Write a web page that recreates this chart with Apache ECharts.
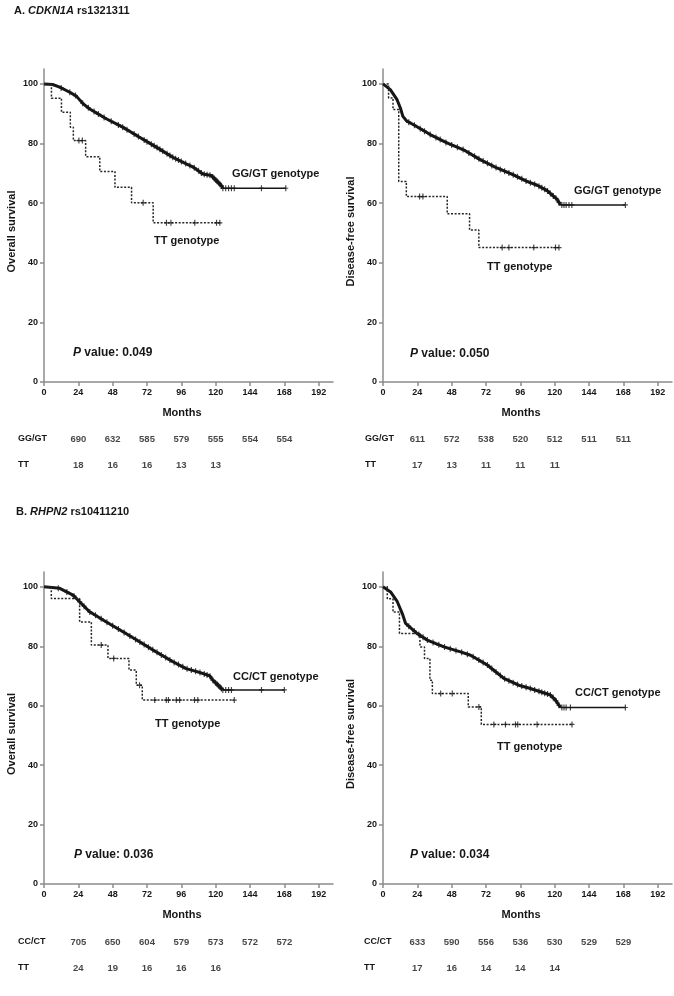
<!DOCTYPE html>
<html>
<head>
<meta charset="utf-8">
<script src="https://cdn.jsdelivr.net/npm/echarts@6/dist/echarts.min.js"></script>
<style>
  html, body { margin: 0; padding: 0; background: #fff; }
  #main { width: 674px; height: 996px; }
</style>
</head>
<body>
<div id="main"></div>
<script>
// x axis ticks (months) and y axis ticks (%)
const monthTicks = [0, 24, 48, 72, 96, 120, 144, 168, 192]
const pctTicks = [0, 20, 40, 60, 80, 100]
const riskTimes = [24, 48, 72, 96, 120, 144, 168]

// A. CDKN1A rs1321311 - overall survival [month, %]
const osA_GG = [[0,100],[6,99.8],[11,98.9],[18,97.2],[22.6,95.9],[27.2,93.4],[32,91.6],[43.5,88.3],[55,85.5],[66.8,82.1],[78.5,78.8],[90,75.4],[99.4,73.2],[104,72.2],[111,69.8],[116.9,69.3],[120.4,67.6],[123.9,65.9],[125,65],[169,65]]
const osA_TT = [[0,100],[5.2,95.2],[12.2,90.5],[18.4,85.5],[20.5,81],[29.1,75.6],[39,70.6],[49.6,65.3],[61.2,60.1],[76.3,53.4],[124,53.4]]
const osA_GG_cens = [12,18,22,27,31,35,38,42,47,52,55,58,63,66,70,72,75,77,79,81,83,86,88,90,92,94,96,99,102,105,108,110,112,114,116,118,119,120,121,122,123,124,125,127,129,131,133,152,169]
const osA_TT_cens = [24.4,26.8,69.3,85.6,88.7,105.4,120.6,122.9]

// A. disease-free survival
const dfsA_GG = [[0,100],[5.1,98.1],[9.7,94.8],[12.1,92],[13.9,89.1],[16.7,87.5],[21.4,86.3],[33,83],[44.7,80.2],[56.3,77.9],[67.9,74.6],[79.6,71.8],[91.2,69.5],[100.6,67.3],[107.8,66],[114.7,64.2],[121.7,61.3],[124,59.4],[169.4,59.4]]
const dfsA_TT = [[0,100],[3.9,95.3],[7,91.4],[11,67.3],[16.3,62.2],[44.9,56.4],[60.5,51],[67,45.1],[123,45.1]]
const dfsA_GG_cens = [18,22,26,29,33,37,40,44,48,52,56,60,64,67,70,73,76,79,82,85,88,91,94,97,100,103,106,109,111,113,115,117,119,121,123,125,126.5,128,130,132,169.4]
const dfsA_TT_cens = [25.6,27.9,83.3,88,105.4,120.6,123]

// B. RHPN2 rs10411210 - overall survival
const osB_CC = [[0,100],[11,99.5],[20.3,97.2],[26.1,94.4],[31.9,91.6],[43.6,88.2],[55.2,84.9],[66.8,81.5],[78.5,78.1],[90.1,74.8],[99.4,72.5],[108.7,71.2],[115.7,70.1],[118,68.6],[122.7,66.4],[125,65.3],[168,65.3]]
const osB_TT = [[0,100],[5.1,96.1],[24.9,88.2],[33.1,80.4],[44.7,75.9],[59.4,72],[64.5,66.9],[68.7,61.9],[133,61.9]]
const osB_CC_cens = [10,16,21,25,28,32,36,40,44,48,52,56,60,64,67,70,73,76,79,82,85,88,91,94,97,100,103,106,109,112,114,116,118,120,121,122,123,124,125,127,129,131,152,168]
const osB_TT_cens = [40,48.7,66.8,77.4,85.5,87,92.5,94.8,105.2,107.5,133]

// B. disease-free survival
const dfsB_CC = [[0,100],[5.3,98.3],[10,95],[13.5,91],[15.8,87.7],[23.9,84.3],[30.9,82.1],[42.6,79.8],[54.2,78.1],[61.2,77],[72.9,73.7],[84.5,69.2],[94.9,66.9],[103,65.8],[110,64.7],[117,63.6],[120.6,61.9],[124,59.4],[169.4,59.4]]
const dfsB_TT = [[0,100],[3,96],[7,91.5],[11.5,84.3],[25.8,79.8],[29,75.9],[32.8,68.6],[34.5,64.1],[59.6,59.6],[68.7,53.7],[132.1,53.7]]
const dfsB_CC_cens = [18,22,25,28,31,35,39,43,47,51,55,59,63,67,70,73,76,79,82,85,88,91,94,97,100,103,106,109,111,113,115,117,119,121,123,125,126.5,128,131,169.4]
const dfsB_TT_cens = [40.3,48.4,67,77.5,85.6,92.6,94.2,107.7,132.1]

// numbers at risk
const riskA_OS_GG = [690, 632, 585, 579, 555, 554, 554]
const riskA_OS_TT = [18, 16, 16, 13, 13]
const riskA_DFS_GG = [611, 572, 538, 520, 512, 511, 511]
const riskA_DFS_TT = [17, 13, 11, 11, 11]
const riskB_OS_CC = [705, 650, 604, 579, 573, 572, 572]
const riskB_OS_TT = [24, 19, 16, 16, 16]
const riskB_DFS_CC = [633, 590, 556, 536, 530, 529, 529]
const riskB_DFS_TT = [17, 16, 14, 14, 14]

const FONT = '"Liberation Sans", Arial, sans-serif'
const INK = '#161616'
const AXIS = '#8c8c8c'
const plusPath = 'path://M-0.6,-3H0.6V3H-0.6Z M-2.6,-0.6H2.6V0.6H-2.6Z'

// value of a curve at time t (step for small group, linear for the big one)
const valueAt = (curve, t, step) => {
  for (let i = curve.length - 1; i >= 0; i--) {
    if (curve[i][0] <= t) {
      if (step || i === curve.length - 1) return curve[i][1]
      const [x0, y0] = curve[i], [x1, y1] = curve[i + 1]
      return y0 + (y1 - y0) * (t - x0) / (x1 - x0)
    }
  }
  return curve[0][1]
}

const panels = [
  { left: 44, top: 69, h: 313, riskTop: 426, rowMargin: 26, yName: 'Overall survival',
    major: osA_GG, tt: osA_TT, majorCens: osA_GG_cens, ttCens: osA_TT_cens,
    rows: ['GG/GT', 'TT'], riskMajor: riskA_OS_GG, riskTT: riskA_OS_TT,
    majorLabel: ['GG/GT genotype', 232, 174], ttLabel: [154, 241], p: ['0.049', 73, 353] },
  { left: 383, top: 69, h: 313, riskTop: 426, rowMargin: 18, yName: 'Disease-free survival',
    major: dfsA_GG, tt: dfsA_TT, majorCens: dfsA_GG_cens, ttCens: dfsA_TT_cens,
    rows: ['GG/GT', 'TT'], riskMajor: riskA_DFS_GG, riskTT: riskA_DFS_TT,
    majorLabel: ['GG/GT genotype', 574, 191], ttLabel: [487, 267], p: ['0.050', 410, 354] },
  { left: 44, top: 572, h: 312, riskTop: 929, rowMargin: 26, yName: 'Overall survival',
    major: osB_CC, tt: osB_TT, majorCens: osB_CC_cens, ttCens: osB_TT_cens,
    rows: ['CC/CT', 'TT'], riskMajor: riskB_OS_CC, riskTT: riskB_OS_TT,
    majorLabel: ['CC/CT genotype', 233, 677], ttLabel: [155, 724], p: ['0.036', 74, 855] },
  { left: 383, top: 572, h: 312, riskTop: 929, rowMargin: 19, yName: 'Disease-free survival',
    major: dfsB_CC, tt: dfsB_TT, majorCens: dfsB_CC_cens, ttCens: dfsB_TT_cens,
    rows: ['CC/CT', 'TT'], riskMajor: riskB_DFS_CC, riskTT: riskB_DFS_TT,
    majorLabel: ['CC/CT genotype', 575, 693], ttLabel: [497, 747], p: ['0.034', 410, 855] }
]

const grid = [], xAxis = [], yAxis = [], series = [], graphic = []
const labelStyle = { color: INK, fontFamily: FONT, fontWeight: 'bold', fontSize: 9 }

panels.forEach((p, k) => {
  const gi = k * 2, ri = k * 2 + 1
  grid.push({ left: p.left, top: p.top, width: 289, height: p.h })
  grid.push({ left: p.left, top: p.riskTop, width: 289, height: 52 })

  xAxis.push({
    gridIndex: gi, type: 'value', min: 0, max: 202,
    name: 'Months', nameLocation: 'middle', nameGap: 25,
    nameTextStyle: { color: INK, fontFamily: FONT, fontWeight: 'bold', fontSize: 11, padding: [0, 13, 0, 0] },
    axisLine: { lineStyle: { color: AXIS, width: 1.5 } },
    axisTick: { customValues: monthTicks, length: 4, lineStyle: { color: AXIS, width: 1.5 } },
    axisLabel: { customValues: monthTicks, margin: 6, ...labelStyle },
    splitLine: { show: false }
  })
  xAxis.push({ gridIndex: ri, type: 'value', min: 0, max: 202, show: false })

  yAxis.push({
    gridIndex: gi, type: 'value', min: 0, max: 105,
    name: p.yName, nameLocation: 'middle', nameGap: 27,
    nameTextStyle: { color: INK, fontFamily: FONT, fontWeight: 'bold', fontSize: 11, padding: [0, 12, 0, 0] },
    axisLine: { show: true, lineStyle: { color: AXIS, width: 1.5 } },
    axisTick: { show: true, customValues: pctTicks, length: 4, lineStyle: { color: AXIS, width: 1.5 } },
    axisLabel: { customValues: pctTicks, margin: 6, ...labelStyle },
    splitLine: { show: false }
  })
  yAxis.push({
    gridIndex: ri, type: 'category', data: p.rows, inverse: true,
    axisLine: { show: false }, axisTick: { show: false }, splitLine: { show: false },
    axisLabel: { align: 'left', margin: p.rowMargin, ...labelStyle }
  })

  // curves: large group drawn thick while it falls, thin on the flat tail
  series.push({
    type: 'line', xAxisIndex: gi, yAxisIndex: gi, data: p.major.slice(0, -1), symbol: 'none',
    lineStyle: { color: INK, width: 3 }, z: 3
  })
  series.push({
    type: 'line', xAxisIndex: gi, yAxisIndex: gi, data: p.major.slice(-2), symbol: 'none',
    lineStyle: { color: INK, width: 1.4 }, z: 3
  })
  series.push({
    type: 'line', xAxisIndex: gi, yAxisIndex: gi, data: p.tt, symbol: 'none', step: 'end',
    lineStyle: { color: '#262626', width: 1.5, type: [2, 1.6] }, z: 3
  })
  // censor marks
  series.push({
    type: 'scatter', xAxisIndex: gi, yAxisIndex: gi, symbol: plusPath, symbolSize: [5, 6],
    data: p.majorCens.map(t => [t, valueAt(p.major, t, false)]),
    itemStyle: { color: INK }, z: 4
  })
  series.push({
    type: 'scatter', xAxisIndex: gi, yAxisIndex: gi, symbol: plusPath, symbolSize: [5, 6],
    data: p.ttCens.map(t => [t, valueAt(p.tt, t, true)]),
    itemStyle: { color: INK }, z: 4
  })
  // numbers at risk
  const riskRow = (vals, row) => ({
    type: 'scatter', xAxisIndex: ri, yAxisIndex: ri, symbolSize: 1,
    itemStyle: { color: 'rgba(0,0,0,0)' },
    data: vals.map((v, i) => [riskTimes[i], row, v]),
    label: { show: true, position: 'inside', formatter: d => d.value[2],
      color: INK, fontFamily: FONT, fontWeight: 'bold', fontSize: 9.5 }
  })
  series.push(riskRow(p.riskMajor, p.rows[0]))
  series.push(riskRow(p.riskTT, p.rows[1]))

  // annotations
  const txt = (text, x, y, size, rich) => ({
    type: 'text', x: x, y: y,
    style: { text: text, fill: INK, font: `bold ${size}px ${FONT}`, verticalAlign: 'middle', rich: rich }
  })
  graphic.push(txt(p.majorLabel[0], p.majorLabel[1], p.majorLabel[2], 11))
  graphic.push(txt('TT genotype', p.ttLabel[0], p.ttLabel[1], 11))
  graphic.push(txt(`{i|P} value: ${p.p[0]}`, p.p[1], p.p[2], 12,
    { i: { fontStyle: 'italic', fontWeight: 'bold', fontSize: 12, fontFamily: FONT, fill: INK } }))
})

const titleStyle = {
  color: INK, fontFamily: FONT, fontWeight: 'bold', fontSize: 11,
  rich: { i: { fontStyle: 'italic', fontWeight: 'bold', fontSize: 11, fontFamily: FONT, color: INK } }
}

const chart = echarts.init(document.getElementById('main'))
chart.setOption({
  animation: false,
  backgroundColor: '#fff',
  title: [
    { text: 'A. {i|CDKN1A} rs1321311', left: 9, top: 0, textStyle: titleStyle },
    { text: 'B. {i|RHPN2} rs10411210', left: 11, top: 501, textStyle: titleStyle }
  ],
  grid, xAxis, yAxis, series, graphic
})
</script>
</body>
</html>
